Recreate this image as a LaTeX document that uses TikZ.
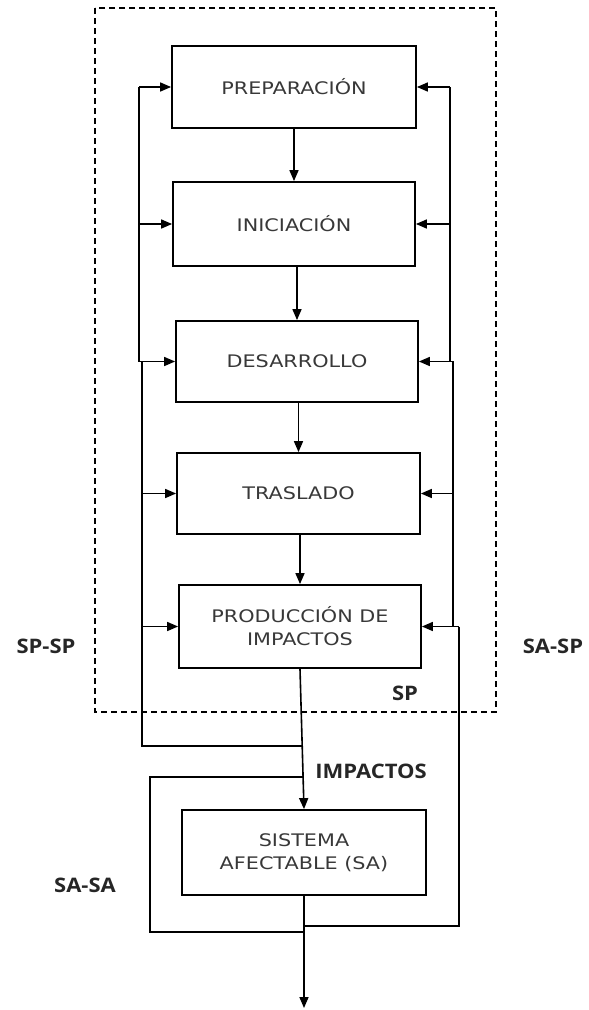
\documentclass[tikz,border=0pt]{standalone}
\usepackage{fontspec}
\setmainfont{DejaVu Sans}[FakeStretch=1.2]
\newfontfamily\labfont{Open Sans}[FakeStretch=1.1]
\usetikzlibrary{arrows.meta}
\begin{document}
\begin{tikzpicture}[x=1pt,y=-1pt,line width=1.6pt,
  box/.style={draw,line width=1.8pt,rectangle,align=center,inner sep=0pt,
    text=black!78,font=\fontsize{17.3}{23}\selectfont},
  lab/.style={font=\labfont\bfseries\fontsize{20}{22}\selectfont,inner sep=0pt,text=black!85},
  arr/.style={-{Triangle[length=11pt,width=9pt]}}]
\useasboundingbox (0,0) rectangle (589,1010);
% dashed frame SP
\draw[dashed,dash pattern=on 6pt off 4pt,line width=1.2pt] (95,8) rectangle (496,712);
% boxes
\node[box,minimum width=244pt,minimum height=82pt] (prep) at (294,87) {PREPARACIÓN};
\node[box,minimum width=242pt,minimum height=84pt] (inic) at (294,224) {INICIACIÓN};
\node[box,minimum width=242pt,minimum height=81pt] (desa) at (297,361.5) {DESARROLLO};
\node[box,minimum width=243pt,minimum height=81pt] (tras) at (298.5,493.5) {TRASLADO};
\node[box,minimum width=242pt,minimum height=83pt] (prod) at (300,626.5) {PRODUCCIÓN DE\\IMPACTOS};
\node[box,minimum width=244pt,minimum height=85pt] (sa) at (304,852.5) {SISTEMA\\AFECTABLE (SA)};
% labels
\node[lab] (lsp) at (405,693) {SP};
\node[lab] (lspsp) at (46,646) {SP-SP};
\node[lab] (lsasp) at (553,646) {SA-SP};
\node[lab] (limp) at (371,771) {IMPACTOS};
\node[lab] (lsasa) at (85,885) {SA-SA};
% main chain
\draw[arr] (prep.south) -- (prep.south |- inic.north);
\draw[arr] (desa.north |- inic.south) -- (desa.north);
\draw[arr] (tras.north |- desa.south) -- (tras.north);
\draw[arr] (prod.north |- tras.south) -- (prod.north);
\draw[arr] (prod.south) -- (sa.north);
% coordinates
\coordinate (jL) at (301.8,746);
\coordinate (jS) at (303.3,777);
\coordinate (jR) at (304,926);
\coordinate (jB) at (304,932);
\coordinate (out) at (304,1008);
\coordinate (L1) at (139,0);
\coordinate (L2) at (142,0);
\coordinate (R1) at (450,0);
\coordinate (R2) at (453,0);
\coordinate (R3) at (459,0);
% SP-SP loop (left)
\draw (jL) -| (L2 |- desa.west) -- (L1 |- desa.west) -- (L1 |- prep.west);
\draw[arr] (L1 |- prep.west) -- (prep.west);
\draw[arr] (L1 |- inic.west) -- (inic.west);
\draw[arr] (L2 |- desa.west) -- (desa.west);
\draw[arr] (L2 |- tras.west) -- (tras.west);
\draw[arr] (L2 |- prod.west) -- (prod.west);
% SA-SP loop (right)
\draw (jR) -| (R3 |- prod.east);
\draw[arr] (R3 |- prod.east) -- (prod.east);
\draw (R2 |- prod.east) -- (R2 |- desa.east) -- (R1 |- desa.east) -- (R1 |- prep.east);
\draw[arr] (R1 |- prep.east) -- (prep.east);
\draw[arr] (R1 |- inic.east) -- (inic.east);
\draw[arr] (R2 |- desa.east) -- (desa.east);
\draw[arr] (R2 |- tras.east) -- (tras.east);
% SA-SA loop
\draw (jB) -- (150,932) -- (150,777) -- (jS);
% output
\draw[arr] (sa.south) -- (out);
\end{tikzpicture}
\end{document}
